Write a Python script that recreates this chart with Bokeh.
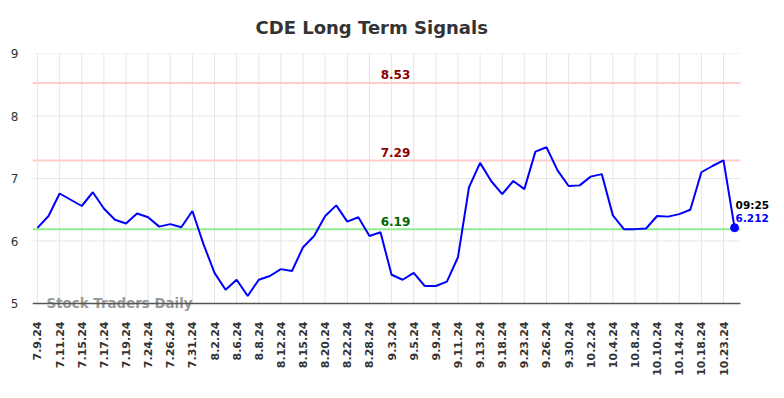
import math
from bokeh.plotting import figure
from bokeh.models import ColumnDataSource, FixedTicker, Range1d, Label, Title
from bokeh.core.properties import value
from bokeh.embed import file_html
from bokeh.resources import INLINE

# ---- data ----
tick_labels = ["7.9.24", "7.11.24", "7.15.24", "7.17.24", "7.19.24", "7.24.24", "7.26.24",
               "7.31.24", "8.2.24", "8.6.24", "8.8.24", "8.12.24", "8.15.24", "8.20.24",
               "8.22.24", "8.28.24", "9.3.24", "9.5.24", "9.9.24", "9.11.24", "9.13.24",
               "9.18.24", "9.23.24", "9.26.24", "9.30.24", "10.2.24", "10.4.24", "10.8.24",
               "10.10.24", "10.14.24", "10.18.24", "10.23.24"]
prices = [6.21, 6.40, 6.76, 6.66, 6.56, 6.78, 6.52, 6.34, 6.28, 6.44,
          6.38, 6.23, 6.27, 6.22, 6.48, 5.95, 5.49, 5.22, 5.38, 5.12,
          5.38, 5.44, 5.55, 5.52, 5.90, 6.08, 6.40, 6.57, 6.31, 6.38,
          6.08, 6.14, 5.46, 5.38, 5.49, 5.28, 5.28, 5.35, 5.74, 6.86,
          7.25, 6.96, 6.75, 6.96, 6.83, 7.43, 7.50, 7.13, 6.88, 6.89,
          7.03, 7.07, 6.41, 6.19, 6.19, 6.20, 6.40, 6.39, 6.43, 6.50,
          7.10, 7.20, 7.29, 6.212]
resistance_levels = [8.53, 7.29]
support_levels = [6.19]
last_time = "09:25"
last_value = 6.212
y_ticks = [5, 6, 7, 8, 9]

idx = list(range(len(prices)))
tick_pos = idx[::2][:len(tick_labels)]

FONT = "DejaVu Sans"

# data-area extent (plot body), the frame extends to the right / below for labels
x_lo, x_hi = -0.45, 63.53
y_lo, y_hi = y_ticks[0], y_ticks[-1]

p = figure(width=780, height=395, output_backend="svg", toolbar_location=None,
           x_range=Range1d(x_lo, 67.15), y_range=Range1d(4.856, y_hi),
           min_border_left=32, min_border_right=0, min_border_top=53,
           min_border_bottom=83)
p.outline_line_color = None
p.background_fill_color = "white"
p.xgrid.visible = False
p.ygrid.visible = False

p.title = Title(text="CDE Long Term Signals", align="left", offset=223, standoff=28,
                vertical_align="top",
                text_font=FONT, text_font_size="18px", text_font_style="bold",
                text_color="#333333")

# axes
p.xaxis.ticker = FixedTicker(ticks=tick_pos)
p.xaxis.major_label_overrides = {pos: lab for pos, lab in zip(tick_pos, tick_labels)}
p.xaxis.major_label_orientation = math.pi / 2
p.xaxis.major_label_text_font = FONT
p.xaxis.major_label_text_font_size = "11px"
p.xaxis.major_label_text_font_style = "bold"
p.xaxis.major_label_text_color = "#333333"
p.xaxis.major_label_standoff = 9
p.xaxis.major_tick_out = 0
p.xaxis.major_tick_in = 0
p.xaxis.minor_tick_out = 0
p.xaxis.minor_tick_in = 0
p.xaxis.axis_line_color = None

p.yaxis.ticker = FixedTicker(ticks=y_ticks)
p.yaxis.major_label_text_font = FONT
p.yaxis.major_label_text_font_size = "12px"
p.yaxis.major_label_text_color = "#333333"
p.yaxis.major_label_standoff = 14
p.yaxis.major_tick_out = 0
p.yaxis.major_tick_in = 0
p.yaxis.minor_tick_out = 0
p.yaxis.minor_tick_in = 0
p.yaxis.axis_line_color = None

# grid lines limited to the data area
p.segment(x0=[x_lo] * len(y_ticks), x1=[x_hi] * len(y_ticks), y0=y_ticks, y1=y_ticks,
          line_color="#e6e6e6", line_width=1)
p.segment(x0=tick_pos, x1=tick_pos, y0=[y_lo] * len(tick_pos), y1=[y_hi] * len(tick_pos),
          line_color="#e6e6e6", line_width=1)

# level lines
p.segment(x0=[x_lo] * len(resistance_levels), x1=[x_hi] * len(resistance_levels),
          y0=resistance_levels, y1=resistance_levels, line_color="#ffcccc", line_width=2)
p.segment(x0=[x_lo] * len(support_levels), x1=[x_hi] * len(support_levels),
          y0=support_levels, y1=support_levels, line_color="#90ee90", line_width=2)
for lv in resistance_levels:
    p.add_layout(Label(x=363, x_units="screen", y=lv, text=f"{lv:.2f}", text_align="center",
                       text_baseline="alphabetic", y_offset=8, text_font=FONT,
                       text_font_size="12px", text_font_style="bold", text_color="#8b0000"))
for lv in support_levels:
    p.add_layout(Label(x=363, x_units="screen", y=lv, text=f"{lv:.2f}", text_align="center",
                       text_baseline="alphabetic", y_offset=8, text_font=FONT,
                       text_font_size="12px", text_font_style="bold", text_color="#006400"))

# watermark (under the axis line)
p.text(x=[x_lo], y=[y_lo], text=["Stock Traders Daily"], x_offset=14, y_offset=0,
       text_font=value(FONT), text_font_size="13.4px", text_font_style="bold",
       text_color="#999999", text_baseline="alphabetic", text_align="left")

# x axis line
p.segment(x0=[x_lo], x1=[x_hi], y0=[y_lo], y1=[y_lo], line_color="#555555", line_width=1.5)

src = ColumnDataSource(dict(x=idx, y=prices))
p.line("x", "y", source=src, line_color="#0000ff", line_width=2)
p.scatter([idx[-1]], [last_value], size=8, color="#0000ff")

p.add_layout(Label(x=idx[-1], y=last_value, text=last_time, x_offset=1, y_offset=23,
                   text_font=FONT, text_font_size="10.5px", text_font_style="bold",
                   text_color="black", text_baseline="alphabetic"))
p.add_layout(Label(x=idx[-1], y=last_value, text=f"{last_value:.3f}", x_offset=1, y_offset=10,
                   text_font=FONT, text_font_size="10.5px", text_font_style="bold",
                   text_color="#0000ff", text_baseline="alphabetic"))

open("out.html", "w").write(file_html(p, INLINE))
